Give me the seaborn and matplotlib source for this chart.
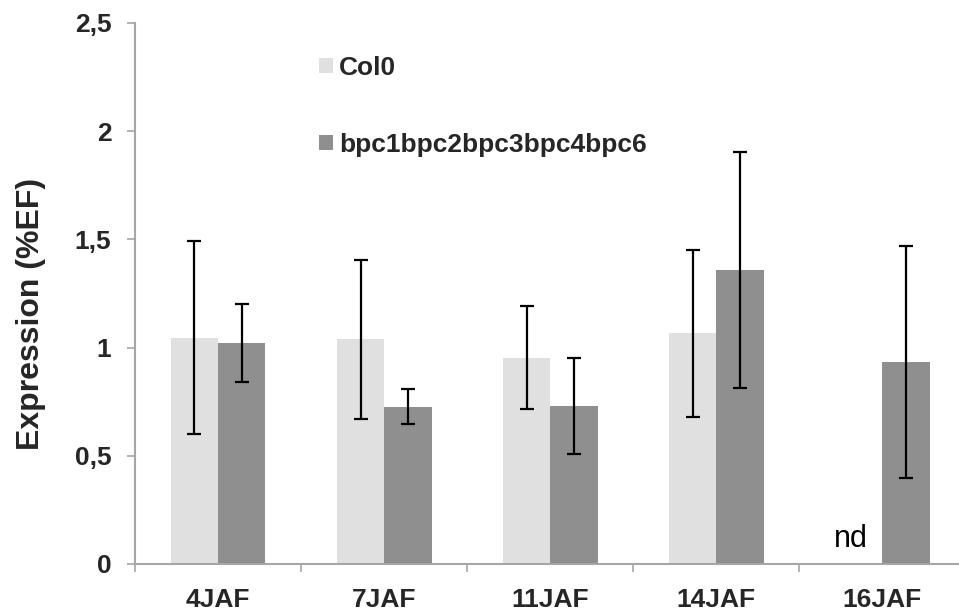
import numpy as np
import pandas as pd
import matplotlib
matplotlib.use("Agg")
import matplotlib.pyplot as plt
import seaborn as sns
from matplotlib.patches import Patch

sns.set_theme(style="white")
plt.rcParams["font.family"] = ["Liberation Sans", "DejaVu Sans"]

# data
stages = ["4JAF", "7JAF", "11JAF", "14JAF", "16JAF"]
genotypes = ["Col0", "bpc1bpc2bpc3bpc4bpc6"]
col0_mean = [1.046, 1.038, 0.952, 1.067, 0.0]
col0_err = [0.445, 0.367, 0.238, 0.386, 0.0]
bpc_mean = [1.021, 0.727, 0.730, 1.359, 0.932]
bpc_err = [0.180, 0.080, 0.223, 0.547, 0.536]
not_detected = [False, False, False, False, True]

colors = {"Col0": "#e0e0e0", "bpc1bpc2bpc3bpc4bpc6": "#8f8f8f"}
axis_grey = "#a6a6a6"

df = pd.DataFrame({
    "stage": stages * 2,
    "genotype": [genotypes[0]] * len(stages) + [genotypes[1]] * len(stages),
    "value": col0_mean + bpc_mean,
    "err": col0_err + bpc_err,
    "nd": not_detected + [False] * len(stages),
})

fig = plt.figure(figsize=(9.59, 6.13), dpi=100)
ax = fig.add_axes([0.1408, 0.080, 0.866, 0.8825])

sns.barplot(data=df, x="stage", y="value", hue="genotype", order=stages,
            hue_order=genotypes, palette=colors, width=0.57, errorbar=None,
            saturation=1, linewidth=0, legend=False, ax=ax)

# error bars + "nd" placed on the bar centres seaborn produced
bars = [p for p in ax.patches]
for bar, (_, row) in zip(bars, df.iterrows()):
    xc = bar.get_x() + bar.get_width() / 2
    if row["nd"]:
        ax.text(xc - 0.05, 0.045, "nd", ha="center", va="bottom",
                fontsize=22, color="black")
        continue
    ax.errorbar(xc, row["value"], yerr=row["err"], fmt="none",
                ecolor="black", elinewidth=1.6, capsize=5, capthick=1.6)

ax.set_ylim(0, 2.5)
ax.set_xlim(-0.5, 4.5)
ax.set_yticks([0, 0.5, 1, 1.5, 2, 2.5])
ax.set_yticklabels(["0", "0,5", "1", "1,5", "2", "2,5"], fontsize=19,
                   fontweight="bold")
ax.set_xticks(range(len(stages)))
ax.set_xticklabels(stages, fontsize=19, fontweight="bold")
ax.set_xticks(np.arange(-0.5, len(stages), 1), minor=True)
ax.tick_params(axis="x", which="major", length=0, pad=17)
ax.tick_params(axis="x", which="minor", length=6, color=axis_grey,
               width=1.2, direction="out", bottom=True)
ax.tick_params(axis="y", length=6, color=axis_grey, width=1.2,
               direction="out", left=True, pad=11)

for side in ["top", "right"]:
    ax.spines[side].set_visible(False)
for side in ["left", "bottom"]:
    ax.spines[side].set_color(axis_grey)
    ax.spines[side].set_linewidth(1.5)

ax.set_xlabel("")
ax.set_ylabel("Expression (%EF)", fontsize=23, fontweight="bold")
ax.yaxis.set_label_coords(-0.107, 0.462)

handles = [Patch(facecolor=colors[g], edgecolor="none") for g in genotypes]
ax.legend(handles, genotypes, loc="upper left", bbox_to_anchor=(0.206, 0.964),
          frameon=False, prop={"size": 19, "weight": "bold"},
          borderpad=0, handlelength=0.53, handleheight=0.53,
          handletextpad=0.23, labelspacing=2.02)

fig.savefig("out.png", dpi=100)
